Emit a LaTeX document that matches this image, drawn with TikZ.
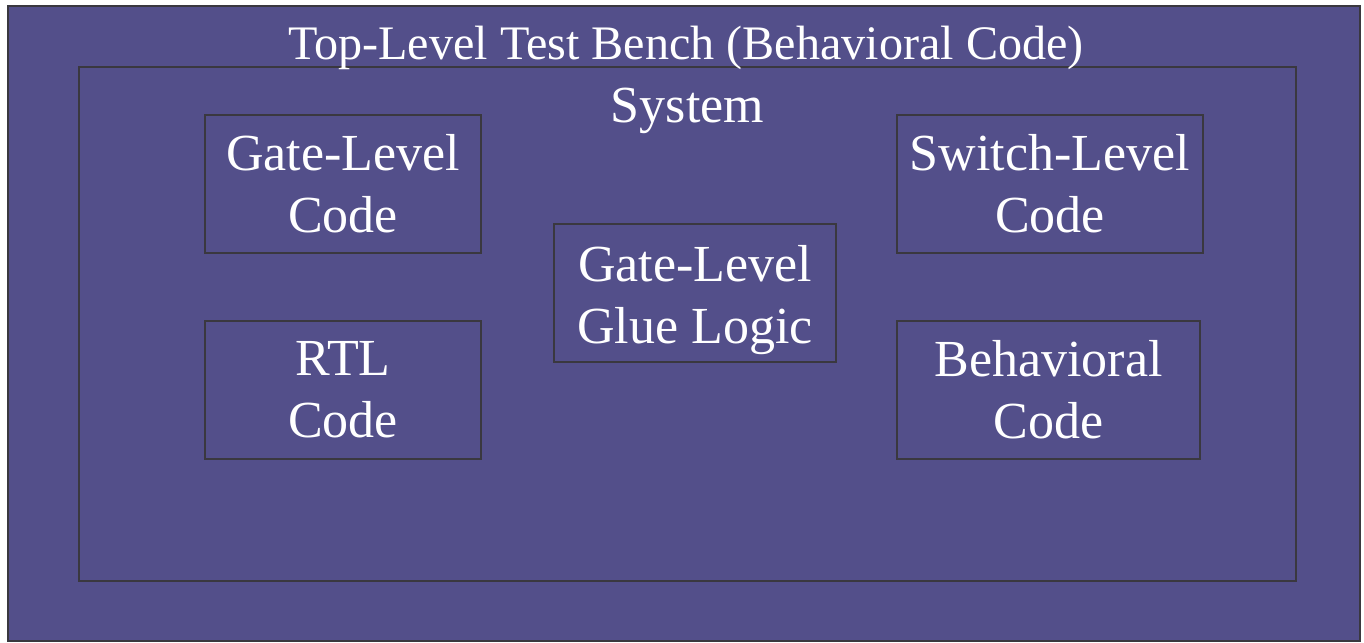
\documentclass[tikz,border=0pt]{standalone}
\usepackage{fontspec}
\setmainfont{Liberation Serif}
\usepackage{tikz}
\usetikzlibrary{positioning}
\definecolor{Slate}{HTML}{534F8A}
\definecolor{Edge}{HTML}{3A383F}
\newcommand\lowered[1]{\raisebox{-4pt}[\height][\depth]{#1}}

\begin{document}
\begin{tikzpicture}[
    frame/.style={draw=Edge,line width=1.15pt,inner sep=0pt},
    block/.style={draw=Edge,line width=1.15pt,minimum width=5.52cm,minimum height=2.76cm,
                  align=center,text=white,font=\fontsize{29.6pt}{35.3pt}\selectfont},
    caption/.style={text=white,anchor=base,inner sep=0pt}
  ]
    \useasboundingbox (0,0) rectangle (27.28,-12.84);
    \node[frame,fill=Slate,minimum width=27.04cm,minimum height=12.70cm] (bench) at (13.68,-6.47) {};
    \node[frame,minimum width=24.34cm,minimum height=10.28cm] (system) at (13.75,-6.48) {};
    \node[caption,font=\fontsize{27.4pt}{33pt}\selectfont] (benchtitle) at (13.72,-1.18) {Top-Level Test Bench (Behavioral Code)};
    \node[caption,font=\fontsize{29.6pt}{35.3pt}\selectfont] (systitle) at (13.75,-2.44) {System};
    \node[block] (gate) at (6.86,-3.68) {Gate-Level\\Code};
    \node[block] (rtl) at (6.86,-7.80) {RTL\\Code};
    \node[block,minimum width=5.64cm] (glue) at (13.90,-5.86) {\lowered{Gate-Level}\\\lowered{Glue Logic}};
    \node[block,minimum width=6.12cm] (switch) at (21.00,-3.68) {Switch-Level\\Code};
    \node[block,minimum width=6.06cm] (behav) at (20.97,-7.80) {Behavioral\\Code};
  \end{tikzpicture}
\end{document}
